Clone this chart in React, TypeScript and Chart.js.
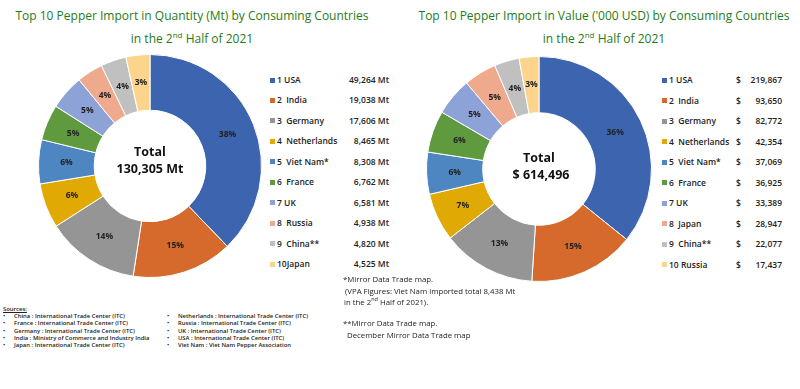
import React, { useEffect, useRef } from "react";
import { Chart, registerables } from "chart.js";

Chart.register(...registerables);

// ---------- DATA ----------
const qtyCountries = ["USA", "India", "Germany", "Netherlands", "Viet Nam*", "France", "UK", "Russia", "China**", "Japan"];
const qtyLegendLabels = ["1 USA", "2  India", "3  Germany", "4  Netherlands", "5  Viet Nam*", "6  France", "7 UK", "8  Russia", "9  China**", "10Japan"];
const qtyValues = [49264, 19038, 17606, 8465, 8308, 6762, 6581, 4938, 4820, 4525];
const qtyTotalLabel = "130,305 Mt";

const valCountries = ["USA", "India", "Germany", "Netherlands", "Viet Nam*", "France", "UK", "Japan", "China**", "Russia"];
const valLegendLabels = ["1 USA", "2  India", "3  Germany", "4  Netherlands", "5  Viet Nam*", "6  France", "7 UK", "8  Japan", "9  China**", "10 Russia"];
const valValues = [219867, 93650, 82772, 42354, 37069, 36925, 33389, 28947, 22077, 17437];
const valTotalLabel = "$ 614,496";

const sliceColors = ["#3D64AF", "#D56A2C", "#959595", "#E1A904", "#4D86C1", "#5F9A3F", "#8DA2D6", "#EFA98C", "#C0C0C0", "#FCD48C"];

const sourcesCol1 = [
  "China : International Trade Center (ITC)",
  "France : International Trade Center (ITC)",
  "Germany : International Trade Center (ITC)",
  "India : Ministry of Commerce and Industry India",
  "Japan : International Trade Center (ITC)",
];
const sourcesCol2 = [
  "Netherlands : International Trade Center (ITC)",
  "Russia : International Trade Center (ITC)",
  "UK : International Trade Center (ITC)",
  "USA : International Trade Center (ITC)",
  "Viet Nam : Viet Nam Pepper Association",
];

const FONT = "'Open Sans', 'Noto Sans', sans-serif";

function fmt(n: number) {
  return n.toLocaleString("en-US");
}

const labelPlugin = {
  id: "sliceLabels",
  afterDatasetsDraw(chart: any, _args: any, opts: any) {
    const ctx = chart.ctx;
    const meta = chart.getDatasetMeta(0);
    const data = chart.data.datasets[0].data as number[];
    const total = data.reduce((a, b) => a + b, 0);
    ctx.save();
    ctx.fillStyle = "#222";
    ctx.font = `bold 8.5px ${FONT}`;
    ctx.textAlign = "center";
    ctx.textBaseline = "middle";
    meta.data.forEach((arc: any, i: number) => {
      const p = arc.tooltipPosition();
      ctx.fillText(Math.round((data[i] / total) * 100) + "%", p.x, p.y);
    });
    const first = meta.data[0];
    const cx = first.x;
    const cy = first.y;
    ctx.font = `bold 12.5px ${FONT}`;
    ctx.fillStyle = "#111";
    ctx.fillText("Total", cx, cy + opts.dy1);
    ctx.fillText(opts.total, cx + opts.dx2, cy + opts.dy2);
    ctx.restore();
  },
};

function Donut(props: { values: number[]; labels: string[]; left: number; top: number; size: number; total: string; dy1: number; dy2: number; dx2: number }) {
  const ref = useRef<HTMLCanvasElement>(null);
  useEffect(() => {
    const chart = new Chart(ref.current!, {
      type: "doughnut",
      data: {
        labels: props.labels,
        datasets: [
          {
            data: props.values,
            backgroundColor: sliceColors,
            borderColor: "#ffffff",
            borderWidth: 1,
          },
        ],
      },
      options: {
        responsive: false,
        animation: false,
        cutout: "50%",
        layout: { padding: 0 },
        plugins: {
          legend: { display: false },
          tooltip: { enabled: false },
          sliceLabels: { total: props.total, dy1: props.dy1, dy2: props.dy2, dx2: props.dx2 },
        } as any,
      },
      plugins: [labelPlugin],
    });
    return () => chart.destroy();
  }, []);
  return (
    <canvas
      ref={ref}
      width={props.size}
      height={props.size}
      style={{ position: "absolute", left: props.left, top: props.top, width: props.size, height: props.size }}
    />
  );
}

function Title(props: { cx: number; line1: string }) {
  const common: React.CSSProperties = {
    position: "absolute",
    left: props.cx - 250,
    width: 500,
    textAlign: "center",
    color: "#1F7B20",
    fontFamily: FONT,
    fontSize: 12,
    lineHeight: "16px",
    whiteSpace: "nowrap",
  };
  return (
    <>
      <div style={{ ...common, top: 8 }}>{props.line1}</div>
      <div style={{ ...common, top: 31 }}>
        in the 2<sup style={{ fontSize: 8, lineHeight: 0 }}>nd</sup> Half of 2021
      </div>
    </>
  );
}

function Legend(props: { labels: string[]; values: number[]; x: number; y0: number; step: number; kind: "qty" | "val" }) {
  const txt: React.CSSProperties = {
    position: "absolute",
    fontFamily: FONT,
    fontWeight: 600,
    fontSize: 8.5,
    lineHeight: "12px",
    color: "#222",
    whiteSpace: "pre",
  };
  return (
    <>
      {props.labels.map((lab, i) => {
        const y = props.y0 + i * props.step;
        return (
          <React.Fragment key={i}>
            <div style={{ position: "absolute", left: props.x, top: y - 2.5, width: 5, height: 5, background: sliceColors[i] }} />
            <div style={{ ...txt, left: props.x + 7, top: y - 6 }}>{lab}</div>
            {props.kind === "qty" ? (
              <div style={{ ...txt, left: 300, width: 89, textAlign: "right", top: y - 6 }}>{fmt(props.values[i]) + " Mt"}</div>
            ) : (
              <>
                <div style={{ ...txt, left: 736, top: y - 6 }}>$</div>
                <div style={{ ...txt, left: 700, width: 82, textAlign: "right", top: y - 6 }}>{fmt(props.values[i])}</div>
              </>
            )}
          </React.Fragment>
        );
      })}
    </>
  );
}

export default function App() {
  const small: React.CSSProperties = {
    position: "absolute",
    fontFamily: FONT,
    fontWeight: 600,
    fontSize: 5.9,
    lineHeight: "7px",
    color: "#222",
    whiteSpace: "nowrap",
  };
  const note: React.CSSProperties = {
    position: "absolute",
    fontFamily: FONT,
    fontSize: 7.8,
    lineHeight: "11px",
    color: "#222",
    whiteSpace: "nowrap",
  };
  return (
    <div style={{ position: "absolute", left: 0, top: 0, width: 800, height: 389, background: "#fff", overflow: "hidden" }}>
      <Title cx={192} line1="Top 10 Pepper Import in Quantity (Mt) by Consuming Countries" />
      <Title cx={604} line1="Top 10 Pepper Import in Value ('000 USD) by Consuming Countries" />

      <Donut values={qtyValues} labels={qtyCountries} left={38} top={54} size={224} total={qtyTotalLabel} dy1={-14} dy2={3} dx2={0} />
      <Donut values={valValues} labels={valCountries} left={426} top={56} size={226} total={valTotalLabel} dy1={-11} dy2={6} dx2={2} />

      <Legend labels={qtyLegendLabels} values={qtyValues} x={270} y0={80} step={20.45} kind="qty" />
      <Legend labels={valLegendLabels} values={valValues} x={662} y0={80} step={20.5} kind="val" />

      <div style={{ ...small, left: 3, top: 306, textDecoration: "underline" }}>Sources:</div>
      {sourcesCol1.map((s, i) => (
        <React.Fragment key={"a" + i}>
          <div style={{ ...small, left: 3, top: 313 + i * 7.3 }}>•</div>
          <div style={{ ...small, left: 14, top: 313 + i * 7.3 }}>{s}</div>
        </React.Fragment>
      ))}
      {sourcesCol2.map((s, i) => (
        <React.Fragment key={"b" + i}>
          <div style={{ ...small, left: 167, top: 313 + i * 7.3 }}>•</div>
          <div style={{ ...small, left: 178, top: 313 + i * 7.3 }}>{s}</div>
        </React.Fragment>
      ))}

      <div style={{ ...note, left: 343, top: 274 }}>*Mirror Data Trade map.</div>
      <div style={{ ...note, left: 345, top: 286 }}>(VPA Figures: Viet Nam imported total 8,438 Mt</div>
      <div style={{ ...note, left: 344, top: 297 }}>
        in the 2<sup style={{ fontSize: 5.5, lineHeight: 0 }}>nd</sup> Half of 2021).
      </div>
      <div style={{ ...note, left: 343, top: 318 }}>**Mirror Data Trade map.</div>
      <div style={{ ...note, left: 347, top: 330 }}>December Mirror Data Trade map</div>
    </div>
  );
}
